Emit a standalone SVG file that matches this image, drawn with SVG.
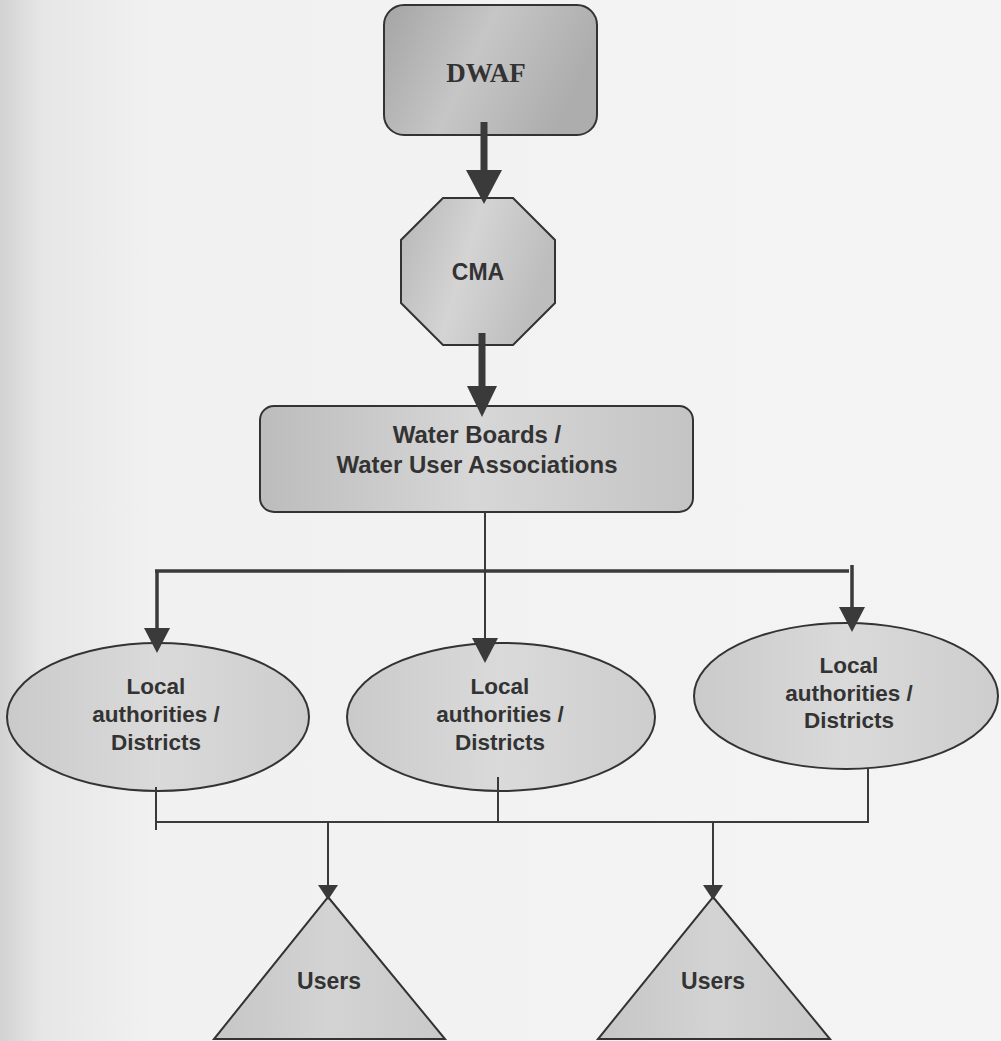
<svg xmlns="http://www.w3.org/2000/svg" width="1001" height="1041" viewBox="0 0 1001 1041">
<style>
.node{stroke:#333;stroke-width:2}
.lbl{font-family:"Liberation Sans",Arial,sans-serif;font-weight:bold;fill:#333;text-anchor:middle}
.thick{stroke:#3a3a3a;stroke-width:7;fill:none}
.med{stroke:#3a3a3a;stroke-width:3.5;fill:none}
.thin{stroke:#3a3a3a;stroke-width:2;fill:none}
</style>
<defs>
<linearGradient id="bg" x1="0" y1="0" x2="1" y2="0">
<stop offset="0" stop-color="#d2d2d2"/>
<stop offset="0.04" stop-color="#e6e6e6"/>
<stop offset="0.15" stop-color="#f1f1f1"/>
<stop offset="1" stop-color="#f4f4f4"/>
</linearGradient>
<linearGradient id="gDwaf" x1="0" y1="0" x2="1" y2="0.3">
<stop offset="0" stop-color="#a4a4a4"/>
<stop offset="0.5" stop-color="#c6c6c6"/>
<stop offset="1" stop-color="#adadad"/>
</linearGradient>
<linearGradient id="gCma" x1="0" y1="0" x2="1" y2="0.3">
<stop offset="0" stop-color="#b6b6b6"/>
<stop offset="0.5" stop-color="#d4d4d4"/>
<stop offset="1" stop-color="#bdbdbd"/>
</linearGradient>
<linearGradient id="gWb" x1="0" y1="0" x2="1" y2="0">
<stop offset="0" stop-color="#bcbcbc"/>
<stop offset="0.5" stop-color="#d7d7d7"/>
<stop offset="1" stop-color="#c4c4c4"/>
</linearGradient>
<linearGradient id="gEl" x1="0" y1="0" x2="1" y2="0">
<stop offset="0" stop-color="#cacaca"/>
<stop offset="0.5" stop-color="#dadada"/>
<stop offset="1" stop-color="#cdcdcd"/>
</linearGradient>
<linearGradient id="gTri" x1="0" y1="0" x2="1" y2="0">
<stop offset="0" stop-color="#c6c6c6"/>
<stop offset="0.5" stop-color="#d3d3d3"/>
<stop offset="1" stop-color="#c9c9c9"/>
</linearGradient>
<marker id="aBig" markerUnits="userSpaceOnUse" markerWidth="34" markerHeight="36" refX="0" refY="18" orient="auto" overflow="visible">
<path d="M0,0 L34,18 L0,36 Z" fill="#3a3a3a"/>
</marker>
<marker id="aBig2" markerUnits="userSpaceOnUse" markerWidth="31" markerHeight="30" refX="0" refY="15" orient="auto" overflow="visible">
<path d="M0,0 L31,15 L0,30 Z" fill="#3a3a3a"/>
</marker>
<marker id="aMed" markerUnits="userSpaceOnUse" markerWidth="25" markerHeight="26" refX="0" refY="13" orient="auto" overflow="visible">
<path d="M0,0 L25,13 L0,26 Z" fill="#3a3a3a"/>
</marker>
<marker id="aSmall" markerUnits="userSpaceOnUse" markerWidth="15" markerHeight="20" refX="0" refY="10" orient="auto" overflow="visible">
<path d="M0,0 L15,10 L0,20 Z" fill="#3a3a3a"/>
</marker>
</defs>
<rect x="0" y="0" width="1001" height="1041" fill="url(#bg)"/>

<g id="dwaf">
<rect class="node" x="384" y="5" width="213" height="130" rx="20" fill="url(#gDwaf)"/>
<text x="486" y="82" font-family="'Liberation Serif','Times New Roman',serif" font-weight="bold" font-size="27" fill="#333" text-anchor="middle">DWAF</text>
</g>

<g id="cma">
<polygon class="node" points="443,198 513,198 555,240 555,303 513,345 443,345 401,303 401,240" fill="url(#gCma)"/>
<text class="lbl" x="478" y="280" font-size="23">CMA</text>
</g>

<g id="wb">
<rect class="node" x="260" y="406" width="433" height="106" rx="14" fill="url(#gWb)"/>
<text class="lbl" x="477" y="443" font-size="24">Water Boards /</text>
<text class="lbl" x="477" y="473" font-size="24">Water User Associations</text>
</g>

<g id="la1">
<ellipse class="node" cx="158" cy="717" rx="151" ry="74" fill="url(#gEl)"/>
<text class="lbl" x="156" y="694" font-size="22.5">Local</text>
<text class="lbl" x="156" y="722" font-size="22.5">authorities /</text>
<text class="lbl" x="156" y="750" font-size="22.5">Districts</text>
</g>

<g id="la2">
<ellipse class="node" cx="501" cy="717" rx="154" ry="74" fill="url(#gEl)"/>
<text class="lbl" x="500" y="694" font-size="22.5">Local</text>
<text class="lbl" x="500" y="722" font-size="22.5">authorities /</text>
<text class="lbl" x="500" y="750" font-size="22.5">Districts</text>
</g>

<g id="la3">
<ellipse class="node" cx="846" cy="696" rx="152" ry="73" fill="url(#gEl)"/>
<text class="lbl" x="849" y="673" font-size="22.5">Local</text>
<text class="lbl" x="849" y="701" font-size="22.5">authorities /</text>
<text class="lbl" x="849" y="728" font-size="22.5">Districts</text>
</g>

<g id="users1">
<polygon class="node" points="328,897 445,1039 214,1039" fill="url(#gTri)"/>
<text class="lbl" x="329" y="989" font-size="23">Users</text>
</g>

<g id="users2">
<polygon class="node" points="713,897 830,1039 598,1039" fill="url(#gTri)"/>
<text class="lbl" x="713" y="989" font-size="23">Users</text>
</g>

<g id="connectors">
<path class="thick" d="M484,122 V170" marker-end="url(#aBig)"/>
<path class="thick" d="M482,333 V386" marker-end="url(#aBig2)"/>
<path class="thin" d="M485,512 V638" marker-end="url(#aMed)"/>
<path class="med" d="M155,571 H849"/>
<path class="med" d="M157,571 V628" marker-end="url(#aMed)"/>
<path class="med" d="M852,565 V607" marker-end="url(#aMed)"/>
<path class="thin" d="M156,787 V830"/>
<path class="thin" d="M498,777 V822"/>
<path class="thin" d="M868,768 V823"/>
<path class="thin" d="M156,822 H869"/>
<path class="thin" d="M328,822 V885" marker-end="url(#aSmall)"/>
<path class="thin" d="M713,822 V885" marker-end="url(#aSmall)"/>
</g>
</svg>
